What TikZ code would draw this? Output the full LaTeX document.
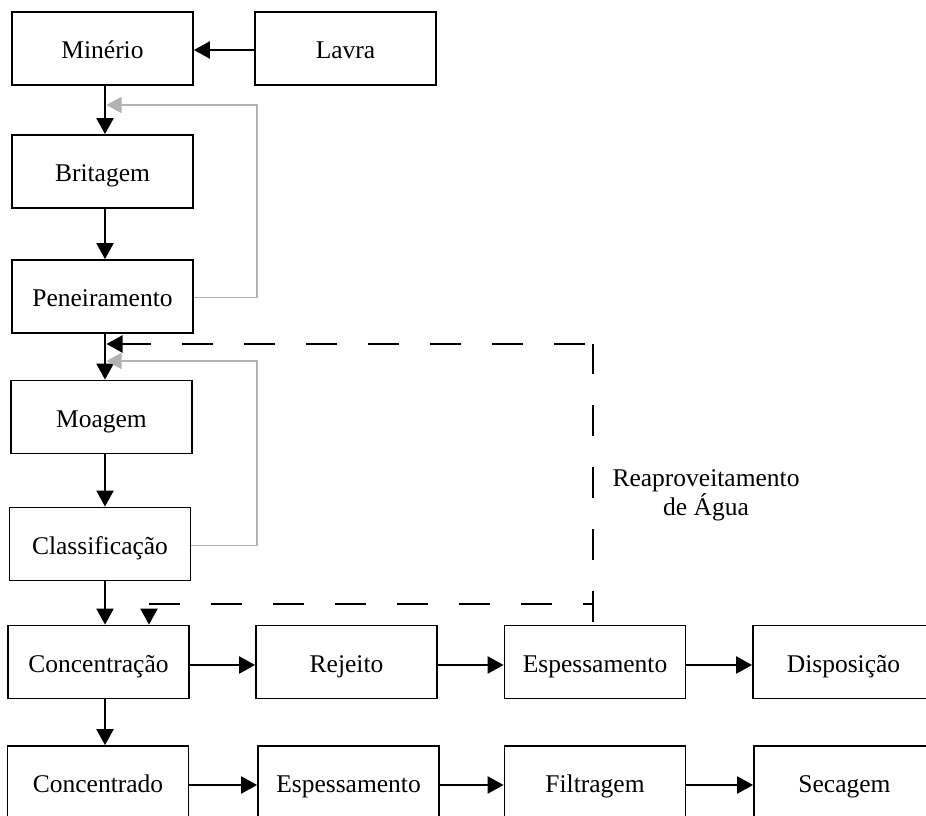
\documentclass[tikz,border=0pt]{standalone}
\usepackage{fontspec}
\setmainfont{Liberation Serif}
\usetikzlibrary{arrows.meta}
\definecolor{fbgray}{RGB}{178,178,178}
\begin{document}
\begin{tikzpicture}[x=1pt,y=-1pt,
  box/.style={draw, line width=1.8pt, minimum width=181pt, minimum height=73pt,
    inner sep=0pt, font=\fontsize{25.5}{29}\selectfont, text height=20pt, text depth=0pt},
  arr/.style={line width=2.3pt, -{Triangle[length=16pt,width=17pt]}},
  garr/.style={draw=fbgray, line width=1.4pt, -{Triangle[length=15pt,width=16pt,fill=fbgray]}},
  darr/.style={line width=2.2pt, dash pattern=on 31pt off 31pt, -{Triangle[length=16pt,width=17pt]}},
  dln/.style={line width=2.2pt, dash pattern=on 31pt off 31pt},
  lbl/.style={font=\fontsize{25.5}{29}\selectfont, align=center, inner sep=0pt}
]
\useasboundingbox (0,0) rectangle (926,816);
% nodes
\node[box] (min)  at (102.5,48.5) {Minério};
\node[box] (lav)  at (345.5,48.5) {Lavra};
\node[box] (bri)  at (102.5,171.5) {Britagem};
\node[box] (pen)  at (102.5,296.5) {Peneiramento};
\node[box] (moa)  at (101.5,417) {Moagem};
\node[box] (cla)  at (100,544) {Classificação};
\node[box] (con)  at (98.5,662) {Concentração};
\node[box] (rej)  at (346.5,662) {Rejeito};
\node[box] (esp1) at (595,662) {Espessamento};
\node[box] (dis)  at (843.5,662) {Disposição};
\node[box] (conc) at (98,782.5) {Concentrado};
\node[box] (esp2) at (348.5,782.5) {Espessamento};
\node[box] (fil)  at (595,782.5) {Filtragem};
\node[box] (sec)  at (844.5,782.5) {Secagem};
\node[lbl, anchor=north] (rea) at (706,469.5) {Reaproveitamento\\de Água};
% helper coordinates
\coordinate (sp) at (105,0);
\coordinate (g1top) at (257,105);
\coordinate (g1end) at (106.5,105);
\coordinate (g2top) at (257,361);
\coordinate (g2end) at (106.5,361);
\coordinate (dbot) at (593,622);
\coordinate (dtop) at (593,344);
\coordinate (dend) at (106.5,344);
\coordinate (dj) at (593,604);
\coordinate (dk) at (149,604);
% main flow
\draw[arr] ([yshift=-1.5pt]lav.west) -- ([yshift=-1.5pt]min.east);
\draw[arr] (min.south -| sp) -- (bri.north -| sp);
\draw[arr] (bri.south -| sp) -- (pen.north -| sp);
\draw[arr] (pen.south -| sp) -- (moa.north -| sp);
\draw[arr] (moa.south -| sp) -- (cla.north -| sp);
\draw[arr] (cla.south -| sp) -- (con.north -| sp);
\draw[arr] (con.south -| sp) -- (conc.north -| sp);
\draw[arr] ([yshift=-3pt]con.east) -- ([yshift=-3pt]rej.west);
\draw[arr] ([yshift=-3pt]rej.east) -- ([yshift=-3pt]esp1.west);
\draw[arr] ([yshift=-3pt]esp1.east) -- ([yshift=-3pt]dis.west);
\draw[arr] ([yshift=-2.5pt]conc.east) -- ([yshift=-2.5pt]esp2.west);
\draw[arr] ([yshift=-2.5pt]esp2.east) -- ([yshift=-2.5pt]fil.west);
\draw[arr] ([yshift=-2.5pt]fil.east) -- ([yshift=-2.5pt]sec.west);
% gray recirculation
\draw[garr] ([yshift=-1pt]pen.east) -| (g1top) -- (g1end);
\draw[garr] ([yshift=-1.5pt]cla.east) -| (g2top) -- (g2end);
% dashed water reuse
\draw[dln] (dbot) -- (dtop);
\draw[darr, dash phase=54pt] (dtop) -- (dend);
\draw[darr, dash phase=21pt] (dj) -- (dk) -- (dk |- con.north);
\end{tikzpicture}
\end{document}
